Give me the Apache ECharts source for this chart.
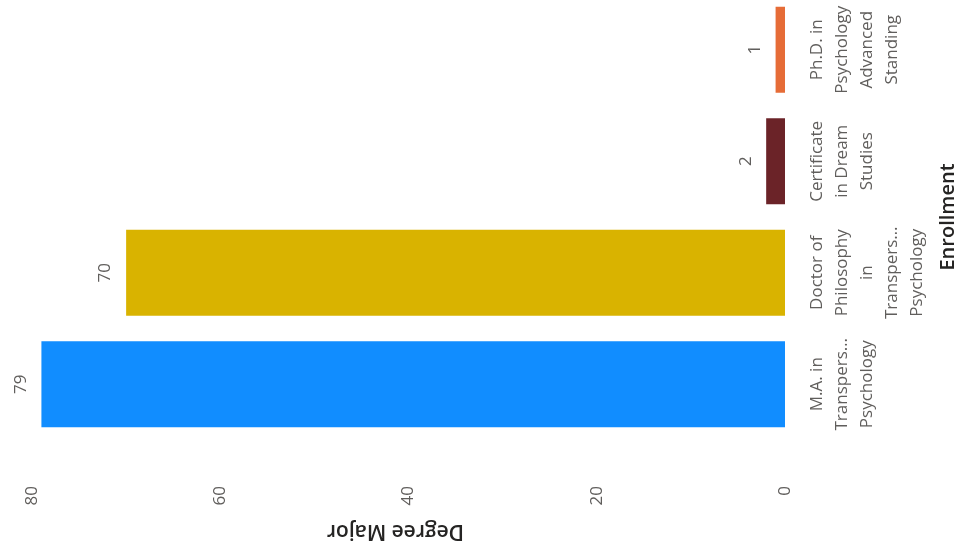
<!DOCTYPE html>
<html>
<head>
    <meta charset="utf-8">
    <title>Enrollment by Degree Major</title>
    <script src="https://cdn.jsdelivr.net/npm/echarts@6/dist/echarts.min.js"></script>
    <style>
        html, body { margin: 0; padding: 0; background: #ffffff; }
    </style>
</head>
<body>
<!-- rotated bar chart -->
<div id="main" style="width: 955px;height:554px;"></div>

<script type="text/javascript">
    // data
    var majors = [
        'M.A. in\nTranspers…\nPsychology',
        'Doctor of\nPhilosophy\nin\nTranspers…\nPsychology',
        'Certificate\nin Dream\nStudies',
        'Ph.D. in\nPsychology\nAdvanced\nStanding'
    ];
    var enrollment = [79, 70, 2, 1];
    var barColors = ['#118DFF', '#D9B300', '#6B2328', '#E66C37'];
    var valueTicks = [0, 20, 40, 60, 80];

    var fontFamily = '"Segoe UI", "Open Sans", sans-serif';
    var chart = echarts.init(document.getElementById('main'));

    var option = {
        animation: false,
        grid: {
            left: 32,
            right: 170,
            top: -6,
            bottom: 114,
            containLabel: false,
            outerBoundsMode: 'none'
        },
        xAxis: {
            type: 'value',
            inverse: true,
            min: valueTicks[0],
            max: valueTicks[valueTicks.length - 1],
            interval: 20,
            position: 'bottom',
            splitLine: { show: false },
            axisLine: { show: false },
            axisTick: { show: false },
            axisLabel: {
                rotate: 90,
                margin: 46,
                color: '#605E5C',
                fontSize: 17,
                fontFamily: fontFamily
            },
            name: 'Degree Major',
            nameLocation: 'middle',
            nameRotate: 180,
            nameGap: 80,
            nameTextStyle: {
                color: '#252423',
                fontSize: 21,
                fontWeight: 600,
                fontFamily: fontFamily,
                padding: [0, 0, 0, 26]
            }
        },
        yAxis: {
            type: 'category',
            data: majors,
            position: 'right',
            axisLine: { show: false },
            axisTick: { show: false },
            splitLine: { show: false },
            axisLabel: {
                interval: 0,
                rotate: 90,
                margin: 20,
                color: '#605E5C',
                fontSize: 17,
                lineHeight: 25,
                fontFamily: fontFamily
            },
            name: 'Enrollment',
            nameLocation: 'middle',
            nameRotate: 90,
            nameGap: 145,
            nameTextStyle: {
                color: '#252423',
                fontSize: 20,
                fontWeight: 600,
                fontFamily: fontFamily
            }
        },
        series: [{
            name: 'Enrollment',
            type: 'bar',
            barWidth: 86,
            data: enrollment.map(function (v, i) {
                return { value: v, itemStyle: { color: barColors[i] } };
            }),
            label: {
                show: true,
                position: 'left',
                distance: 12,
                rotate: 90,
                align: 'center',
                verticalAlign: 'bottom',
                color: '#605E5C',
                fontSize: 17,
                fontFamily: fontFamily
            }
        }]
    };

    chart.setOption(option);
</script>
</body>
</html>
